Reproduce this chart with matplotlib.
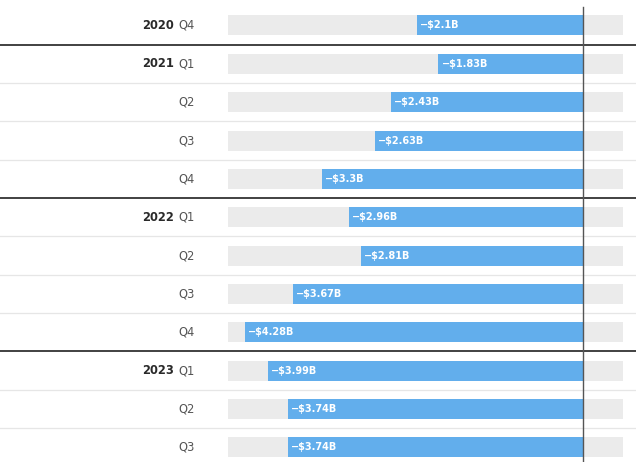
import matplotlib
matplotlib.use("Agg")
import matplotlib.pyplot as plt

years = ["2020", "2021", "", "", "", "2022", "", "", "", "2023", "", ""]
quarters = ["Q4", "Q1", "Q2", "Q3", "Q4", "Q1", "Q2", "Q3", "Q4", "Q1", "Q2", "Q3"]
values = [-2.1, -1.83, -2.43, -2.63, -3.3, -2.96, -2.81, -3.67, -4.28, -3.99, -3.74, -3.74]
labels = ["\u2212$2.1B", "\u2212$1.83B", "\u2212$2.43B", "\u2212$2.63B", "\u2212$3.3B",
          "\u2212$2.96B", "\u2212$2.81B", "\u2212$3.67B", "\u2212$4.28B",
          "\u2212$3.99B", "\u2212$3.74B", "\u2212$3.74B"]

plt.rcParams['font.family'] = ['DejaVu Sans']

blue = "#62aeec"
bg = "#ebebeb"

fig = plt.figure(figsize=(6.36, 4.62), dpi=100)
ax = fig.add_axes([0, 0, 1, 1])
ax.set_axis_off()

# pixel -> data mapping: zero at x=583px, 79px per $1B ; row pitch 38.35px
ax.set_xlim(-583 / 79, 53 / 79)
ax.set_ylim((462 - 25.5) / 38.35, -25.5 / 38.35)

n = len(values)
rows = list(range(n))
bar_h = 20 / 38.35

# gray track behind each bar
ax.barh(rows, [(623 - 228) / 79] * n, left=(228 - 583) / 79, height=bar_h, color=bg, zorder=1)
ax.barh(rows, values, height=bar_h, color=blue, zorder=2)

# row separators
for i in range(n - 1):
    y = i + 0.5
    if years[i + 1]:
        ax.axhline(y, color="#333333", lw=1.3, zorder=3)
    else:
        ax.axhline(y, color="#e6e6e6", lw=0.9, zorder=0)

# zero line
ax.plot([0, 0], [-18 / 38.35 - 0.01, n], color="#555555", lw=1.0, zorder=4, clip_on=False)

lab_x = (195 - 583) / 79
for i in rows:
    qt = ax.text(lab_x, i, quarters[i], ha="right", va="center", fontsize=8.3,
                 color="#555555")
    if years[i]:
        ax.annotate(years[i], xy=(0, 0.5), xycoords=qt, xytext=(-3.5, 0),
                    textcoords="offset points", ha="right", va="center",
                    fontsize=8.3, fontweight="bold", color="#2a2a2a")
    ax.annotate(labels[i], xy=(values[i], i), xytext=(2.2, 0), textcoords="offset points",
                ha="left", va="center", fontsize=7, fontweight="bold", color="white",
                zorder=5)

fig.savefig("out.png", dpi=100)
